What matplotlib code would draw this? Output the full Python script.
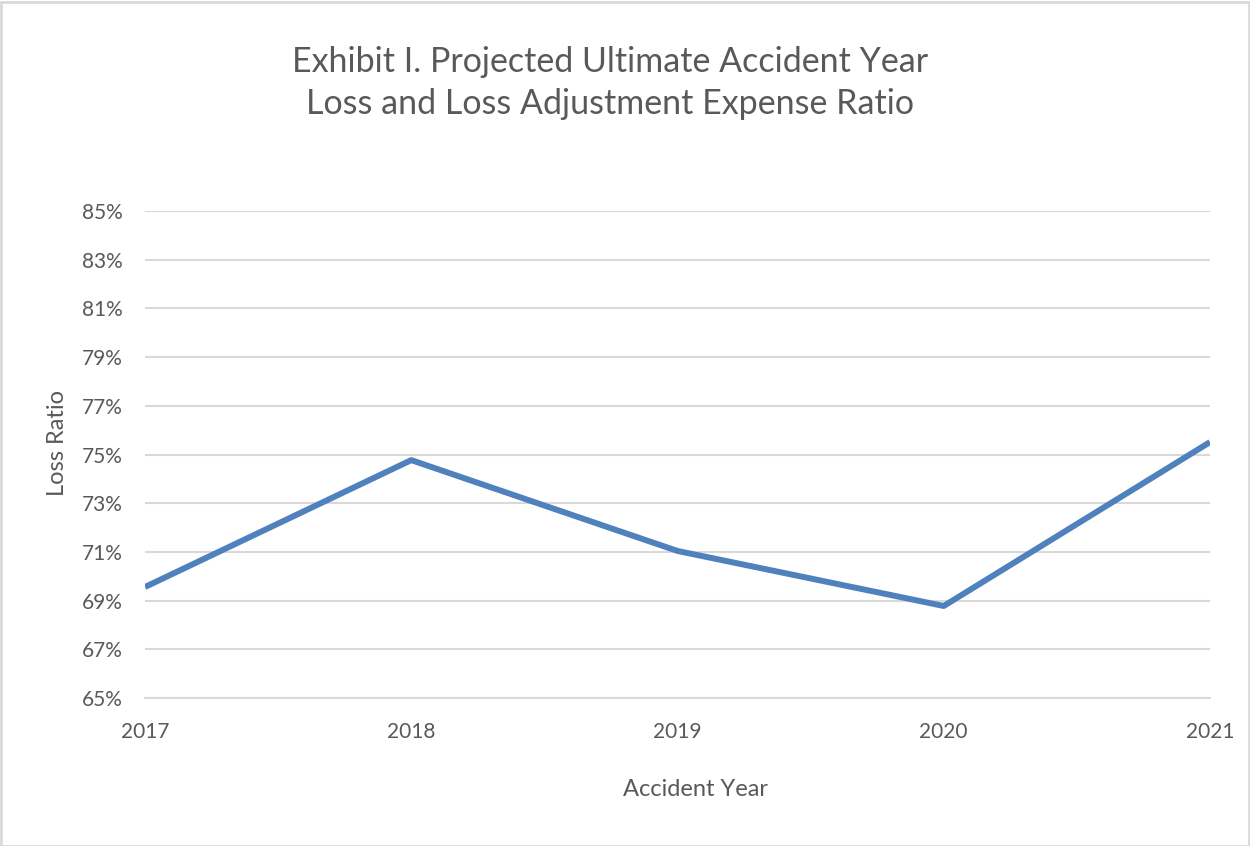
import matplotlib.pyplot as plt
from matplotlib.ticker import FuncFormatter
from matplotlib.patches import Rectangle

plt.rcParams['font.family'] = ['Lato', 'DejaVu Sans']

years = [2017, 2018, 2019, 2020, 2021]
loss_ratio = [69.56, 74.77, 71.04, 68.78, 75.51]
y_ticks = [65, 67, 69, 71, 73, 75, 77, 79, 81, 83, 85]

text_color = '#595959'
grid_color = '#D9D9D9'

fig = plt.figure(figsize=(12.5, 8.46), dpi=100)
ax = fig.add_axes([0.116, 0.1749, 0.852, 0.5757])

ax.plot(years, loss_ratio, color='#4F81BD', linewidth=4.3, solid_capstyle='butt')

ax.set_xlim(2017, 2021)
ax.set_ylim(65, 85)
ax.set_xticks(years)
ax.set_yticks(y_ticks)
ax.yaxis.set_major_formatter(FuncFormatter(lambda v, p: f'{v:.0f}%'))
ax.grid(axis='y', color=grid_color, linewidth=1.5)
ax.set_axisbelow(True)
for s in ['top', 'right', 'left']:
    ax.spines[s].set_visible(False)
ax.spines['bottom'].set_color(grid_color)
ax.spines['bottom'].set_linewidth(1.5)
ax.tick_params(axis='both', length=0, labelsize=15, labelcolor=text_color)
ax.tick_params(axis='x', pad=17)
ax.tick_params(axis='y', pad=16)

ax.set_xlabel('Accident Year', fontsize=17, color=text_color)
ax.xaxis.set_label_coords(0.517, -0.167)
ax.set_ylabel('Loss Ratio', fontsize=17, color=text_color, va='center')
ax.yaxis.set_label_coords(-0.0826, 0.524)

fig.text(0.488, 0.902, 'Exhibit I. Projected Ultimate Accident Year\nLoss and Loss Adjustment Expense Ratio',
         ha='center', va='center', fontsize=24.5, color=text_color, linespacing=1.4)

fig.patches.append(Rectangle((0.001, 0.0), 0.998, 0.998, transform=fig.transFigure,
                             fill=False, edgecolor='#D9D9D9', linewidth=2))

fig.savefig('out.png', dpi=100, facecolor='white')
